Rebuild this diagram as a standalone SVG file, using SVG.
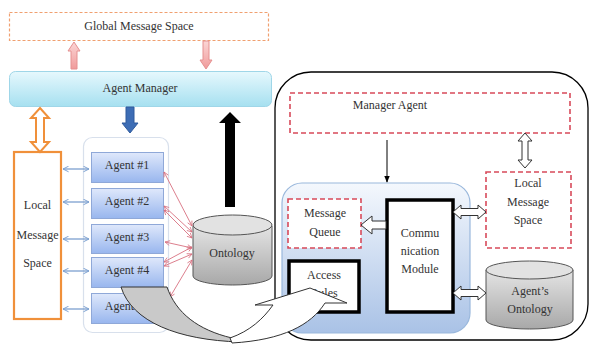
<svg xmlns="http://www.w3.org/2000/svg" width="595" height="344" viewBox="0 0 595 344">
<defs>
<style>
text{font-family:"Liberation Serif","Times New Roman","DejaVu Serif",serif;font-size:12px;fill:#333;text-anchor:middle}
.dashO{fill:#fff;stroke:#f0a070;stroke-width:1.2;stroke-dasharray:3 2}
.dashR{fill:#fff;stroke:#d84a5a;stroke-width:1.6;stroke-dasharray:5 3}
.agent{fill:url(#gAgent);stroke:#8fa8d8;stroke-width:1}
.blk{fill:#fff;stroke:#000;stroke-width:3.5}
.open{fill:#fff;stroke:#333;stroke-width:1}
.bl{stroke:#7ca0d0;stroke-width:1.3;fill:none;marker-start:url(#mB);marker-end:url(#mB)}
.rd{stroke:#d87080;stroke-width:0.9;fill:none;marker-start:url(#mR);marker-end:url(#mR)}
</style>
<linearGradient id="gMgr" x1="0" y1="0" x2="0" y2="1"><stop offset="0" stop-color="#e6f8fd"/><stop offset="1" stop-color="#a6e0f0"/></linearGradient>
<linearGradient id="gAgent" x1="0" y1="0" x2="0" y2="1"><stop offset="0" stop-color="#dfe8fb"/><stop offset="1" stop-color="#98b6ee"/></linearGradient>
<linearGradient id="gInner" x1="0" y1="0" x2="0" y2="1"><stop offset="0" stop-color="#f4f8fd"/><stop offset="1" stop-color="#a9c2e6"/></linearGradient>
<linearGradient id="gCyl" x1="0" y1="0" x2="0" y2="1"><stop offset="0" stop-color="#e4e4e4"/><stop offset="1" stop-color="#a8a8a8"/></linearGradient>
<linearGradient id="gPink" x1="0" y1="0" x2="0" y2="1"><stop offset="0" stop-color="#fbd6d6"/><stop offset="1" stop-color="#f09a9a"/></linearGradient>
<marker id="mB" viewBox="0 0 10 10" refX="9" refY="5" markerWidth="7" markerHeight="7" orient="auto-start-reverse" markerUnits="userSpaceOnUse"><path d="M1,1 L9,5 L1,9" fill="none" stroke="#7ca0d0" stroke-width="1.4"/></marker>
<marker id="mR" viewBox="0 0 10 10" refX="9" refY="5" markerWidth="6" markerHeight="6" orient="auto-start-reverse" markerUnits="userSpaceOnUse"><path d="M1,1 L9,5 L1,9" fill="none" stroke="#d87080" stroke-width="1.3"/></marker>
<marker id="mK" viewBox="0 0 10 10" refX="9" refY="5" markerWidth="7" markerHeight="7" orient="auto" markerUnits="userSpaceOnUse"><path d="M0,1 L10,5 L0,9 Z" fill="#000"/></marker>
</defs>
<rect width="595" height="344" fill="#fff"/>

<g id="right-frame"><rect x="275" y="72" width="313" height="268" rx="36" fill="#fff" stroke="#000" stroke-width="1.3"/></g>

<g id="global-message-space"><rect class="dashO" x="9.5" y="12.5" width="259" height="28"/><text x="139" y="30">Global Message Space</text></g>
<g id="agent-manager"><rect x="9.5" y="71.5" width="262" height="35" rx="6" fill="url(#gMgr)" stroke="#9fd6e8"/><text x="140" y="92">Agent Manager</text></g>
<g id="local-message-space"><rect x="14" y="152" width="47" height="167" fill="#fff" stroke="#f0903a" stroke-width="2.2"/><text x="37.5" y="209">Local</text><text x="37.5" y="239">Message</text><text x="37.5" y="267">Space</text></g>
<g id="agents-container"><rect x="83.5" y="137.5" width="85" height="195" rx="9" fill="#fff" stroke="#d8e0ec" stroke-width="1.2"/></g>
<g id="agent1"><rect class="agent" x="91.5" y="152.5" width="72" height="30"/><text x="127" y="169">Agent #1</text></g>
<g id="agent2"><rect class="agent" x="91.5" y="188.5" width="72" height="30"/><text x="127" y="205">Agent #2</text></g>
<g id="agent3"><rect class="agent" x="91.5" y="224.5" width="72" height="29"/><text x="127" y="241">Agent #3</text></g>
<g id="agent4"><rect class="agent" x="91.5" y="257.5" width="72" height="30"/><text x="127" y="274">Agent #4</text></g>
<g id="agent5"><rect class="agent" x="91.5" y="293.5" width="72" height="30"/><text x="127" y="310">Agent #5</text></g>
<g id="ontology"><path d="M193,226 L193,276 A39.5,9 0 0 0 272,276 L272,226 Z" fill="url(#gCyl)" stroke="#555"/><ellipse cx="232.5" cy="225" rx="39.5" ry="10" fill="#e2e2e2" stroke="#555"/><text x="232" y="257">Ontology</text></g>

<g id="manager-agent"><rect class="dashR" x="290" y="93" width="280" height="40"/><text x="390" y="109">Manager Agent</text></g>
<g id="local-message-space-2"><rect class="dashR" x="486" y="172" width="85" height="76"/><text x="528" y="187">Local</text><text x="528" y="206">Message</text><text x="528" y="224">Space</text></g>
<g id="agent-internal"><rect x="282" y="183" width="188" height="150" rx="20" fill="url(#gInner)" stroke="#9ab8dc" stroke-width="1.2"/></g>
<g id="message-queue"><rect class="dashR" x="288" y="199" width="73" height="49"/><text x="325" y="217">Message</text><text x="325" y="236">Queue</text></g>
<g id="communication-module"><rect class="blk" x="387" y="200" width="66" height="112"/><text x="420" y="237">Commu</text><text x="420" y="255">nication</text><text x="420" y="273">Module</text></g>
<g id="access-rules"><rect class="blk" x="289" y="261" width="70" height="51"/><text x="324" y="279">Access</text><text x="324" y="297">Rules</text></g>
<g id="agents-ontology"><path d="M486,270 L486,320 A43.5,9 0 0 0 573,320 L573,270 Z" fill="url(#gCyl)" stroke="#555"/><ellipse cx="529.5" cy="270" rx="43.5" ry="9" fill="#e2e2e2" stroke="#555"/><text x="530" y="295">Agent’s</text><text x="530" y="313">Ontology</text></g>

<g id="connectors">
<path d="M74,42 L80,51 L77,51 L77,69 L71,69 L71,51 L68,51 Z" fill="url(#gPink)" stroke="#e59090"/>
<path d="M206,69 L212,60 L209,60 L209,41 L203,41 L203,60 L200,60 Z" fill="url(#gPink)" stroke="#e59090"/>
<path d="M40,108 L49,118 L44,118 L44,142 L49,142 L40,152 L31,142 L36,142 L36,118 L31,118 Z" fill="#fff" stroke="#f0903a" stroke-width="2"/>
<path d="M130,133 L138,123 L134,123 L134,107 L126,107 L126,123 L122,123 Z" fill="#3d6db5" stroke="#2f5a9c"/>
<path d="M230,112 L241,123 L235,123 L235,207 L225,207 L225,123 L219,123 Z" fill="#000"/>
<line class="bl" x1="63" y1="169" x2="89" y2="169"/>
<line class="bl" x1="63" y1="202" x2="89" y2="202"/>
<line class="bl" x1="63" y1="239" x2="89" y2="239"/>
<line class="bl" x1="63" y1="271" x2="89" y2="271"/>
<line class="bl" x1="63" y1="309" x2="89" y2="309"/>
<line class="rd" x1="164" y1="172" x2="192" y2="226"/>
<line class="rd" x1="164" y1="206" x2="192" y2="232"/>
<line class="rd" x1="164" y1="210" x2="192" y2="238"/>
<line class="rd" x1="165" y1="242" x2="192" y2="248"/>
<line class="rd" x1="164" y1="266" x2="192" y2="254"/>
<line class="rd" x1="164" y1="262" x2="192" y2="247"/>
<line class="rd" x1="170" y1="297" x2="192" y2="260"/>
<line x1="387" y1="140" x2="387" y2="182" stroke="#000" stroke-width="1" marker-end="url(#mK)"/>
<path class="open" d="M525,133 L532,141 L528,141 L528,160 L532,160 L525,168 L518,160 L522,160 L522,141 L518,141 Z"/>
<path class="open" d="M453,212 L461,205 L461,208.5 L478,208.5 L478,205 L486,212 L478,219 L478,215.5 L461,215.5 L461,219 Z"/>
<path class="open" d="M453,293 L461,286 L461,289.5 L478,289.5 L478,286 L486,293 L478,300 L478,296.5 L461,296.5 L461,300 Z"/>
<path class="open" d="M361,225 L372,216 L372,221 L386,221 L386,229 L372,229 L372,234 Z"/>
<path d="M121,287 L167,287 C176,313 198,330 232,338 L240,342 C178,340 132,322 121,287 Z" fill="#c9c9c9" stroke="#333" stroke-width="1"/>
<path d="M230,338 C250,331 263,319 273,305 L255,305 L310,288 L347,303 L325,303 C311,325 283,340 232,343 Z" fill="#fff" stroke="#333" stroke-width="1"/>
</g>
</svg>
